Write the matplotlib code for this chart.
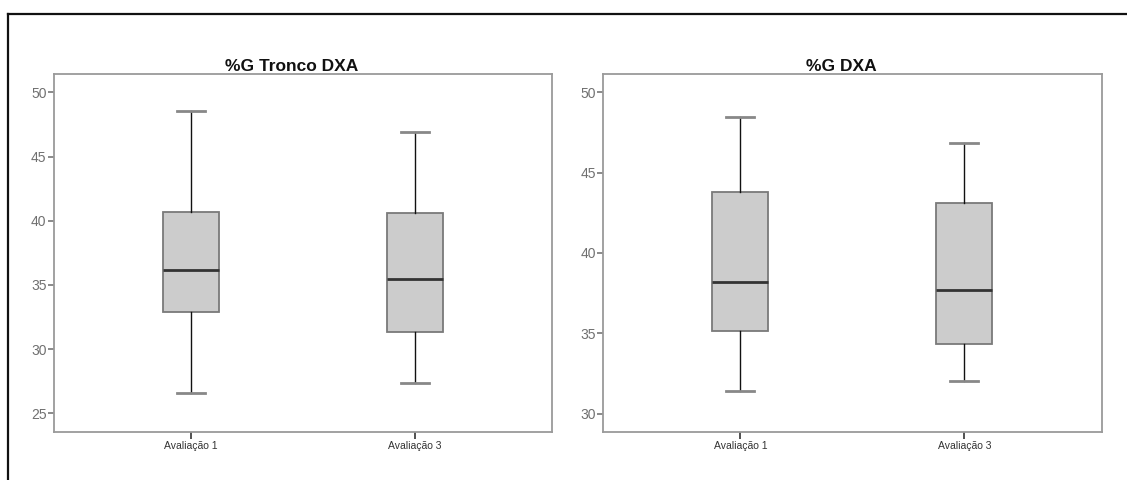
import matplotlib
matplotlib.use("Agg")
import matplotlib.pyplot as plt
from matplotlib.lines import Line2D

plt.rcParams['font.family'] = ['Liberation Sans', 'DejaVu Sans']

categories = ["Avaliação 1", "Avaliação 3"]

# Panel 1: %G Tronco DXA  (whisker low, Q1, median, Q3, whisker high)
tronco_wlo = [26.56, 27.38]
tronco_q1 = [32.91, 31.31]
tronco_med = [36.19, 35.48]
tronco_q3 = [40.70, 40.60]
tronco_whi = [48.54, 46.88]

# Panel 2: %G DXA
total_wlo = [31.39, 32.01]
total_q1 = [35.15, 34.30]
total_med = [38.20, 37.68]
total_q3 = [43.81, 43.10]
total_whi = [48.44, 46.82]

titles = ["%G Tronco DXA", "%G DXA"]
yticks_list = [[25, 30, 35, 40, 45, 50], [30, 35, 40, 45, 50]]
ylims = [(23.57, 51.43), (28.87, 51.14)]

fig = plt.figure(figsize=(11.27, 4.8), dpi=100)
axes_pos = [[0.0475, 0.1006, 0.4421, 0.7452], [0.5353, 0.1006, 0.4422, 0.7452]]

data = [
    (tronco_wlo, tronco_q1, tronco_med, tronco_q3, tronco_whi),
    (total_wlo, total_q1, total_med, total_q3, total_whi),
]

spine_c = "#9a9a9a"
for i in range(2):
    ax = fig.add_axes(axes_pos[i])
    wlo, q1, med, q3, whi = data[i]
    stats = []
    for j, c in enumerate(categories):
        stats.append(dict(label=c, whislo=wlo[j], q1=q1[j], med=med[j],
                          q3=q3[j], whishi=whi[j], fliers=[]))
    ax.bxp(stats, positions=[1, 2], widths=0.25, capwidths=0.125,
           patch_artist=True, showfliers=False,
           boxprops=dict(facecolor="#cccccc", edgecolor="#7a7a7a", linewidth=1.3),
           medianprops=dict(color="#333333", linewidth=2.0),
           whiskerprops=dict(color="#111111", linewidth=1.0),
           capprops=dict(color="#888888", linewidth=2.0))
    ax.set_xlim(0.3875, 2.6125)
    ax.set_ylim(*ylims[i])
    ax.set_yticks(yticks_list[i])
    ax.set_yticklabels([str(t) for t in yticks_list[i]])
    ax.set_xticks([1, 2])
    ax.set_xticklabels(categories)
    for s in ax.spines.values():
        s.set_color(spine_c)
        s.set_linewidth(1.3)
    ax.tick_params(axis="y", direction="out", length=4, width=1.2, color="#777777",
                   labelcolor="#707070", labelsize=10, pad=1)
    ax.tick_params(axis="x", direction="out", length=5, width=1.2, color="#333333",
                   labelcolor="#333333", labelsize=7.5, pad=2)
    t = ax.set_title(titles[i], fontsize=12.5, fontweight="bold", pad=2.5, color="#111111")
    t.set_x(0.478)

# outer frame (top and left edges)
fig.add_artist(Line2D([8 / 1127, 1.0], [1 - 14 / 480, 1 - 14 / 480],
                      transform=fig.transFigure, color="#111111", linewidth=1.6))
fig.add_artist(Line2D([8 / 1127, 8 / 1127], [0.0, 1 - 14 / 480],
                      transform=fig.transFigure, color="#111111", linewidth=1.6))

fig.savefig("out.png", dpi=100)
